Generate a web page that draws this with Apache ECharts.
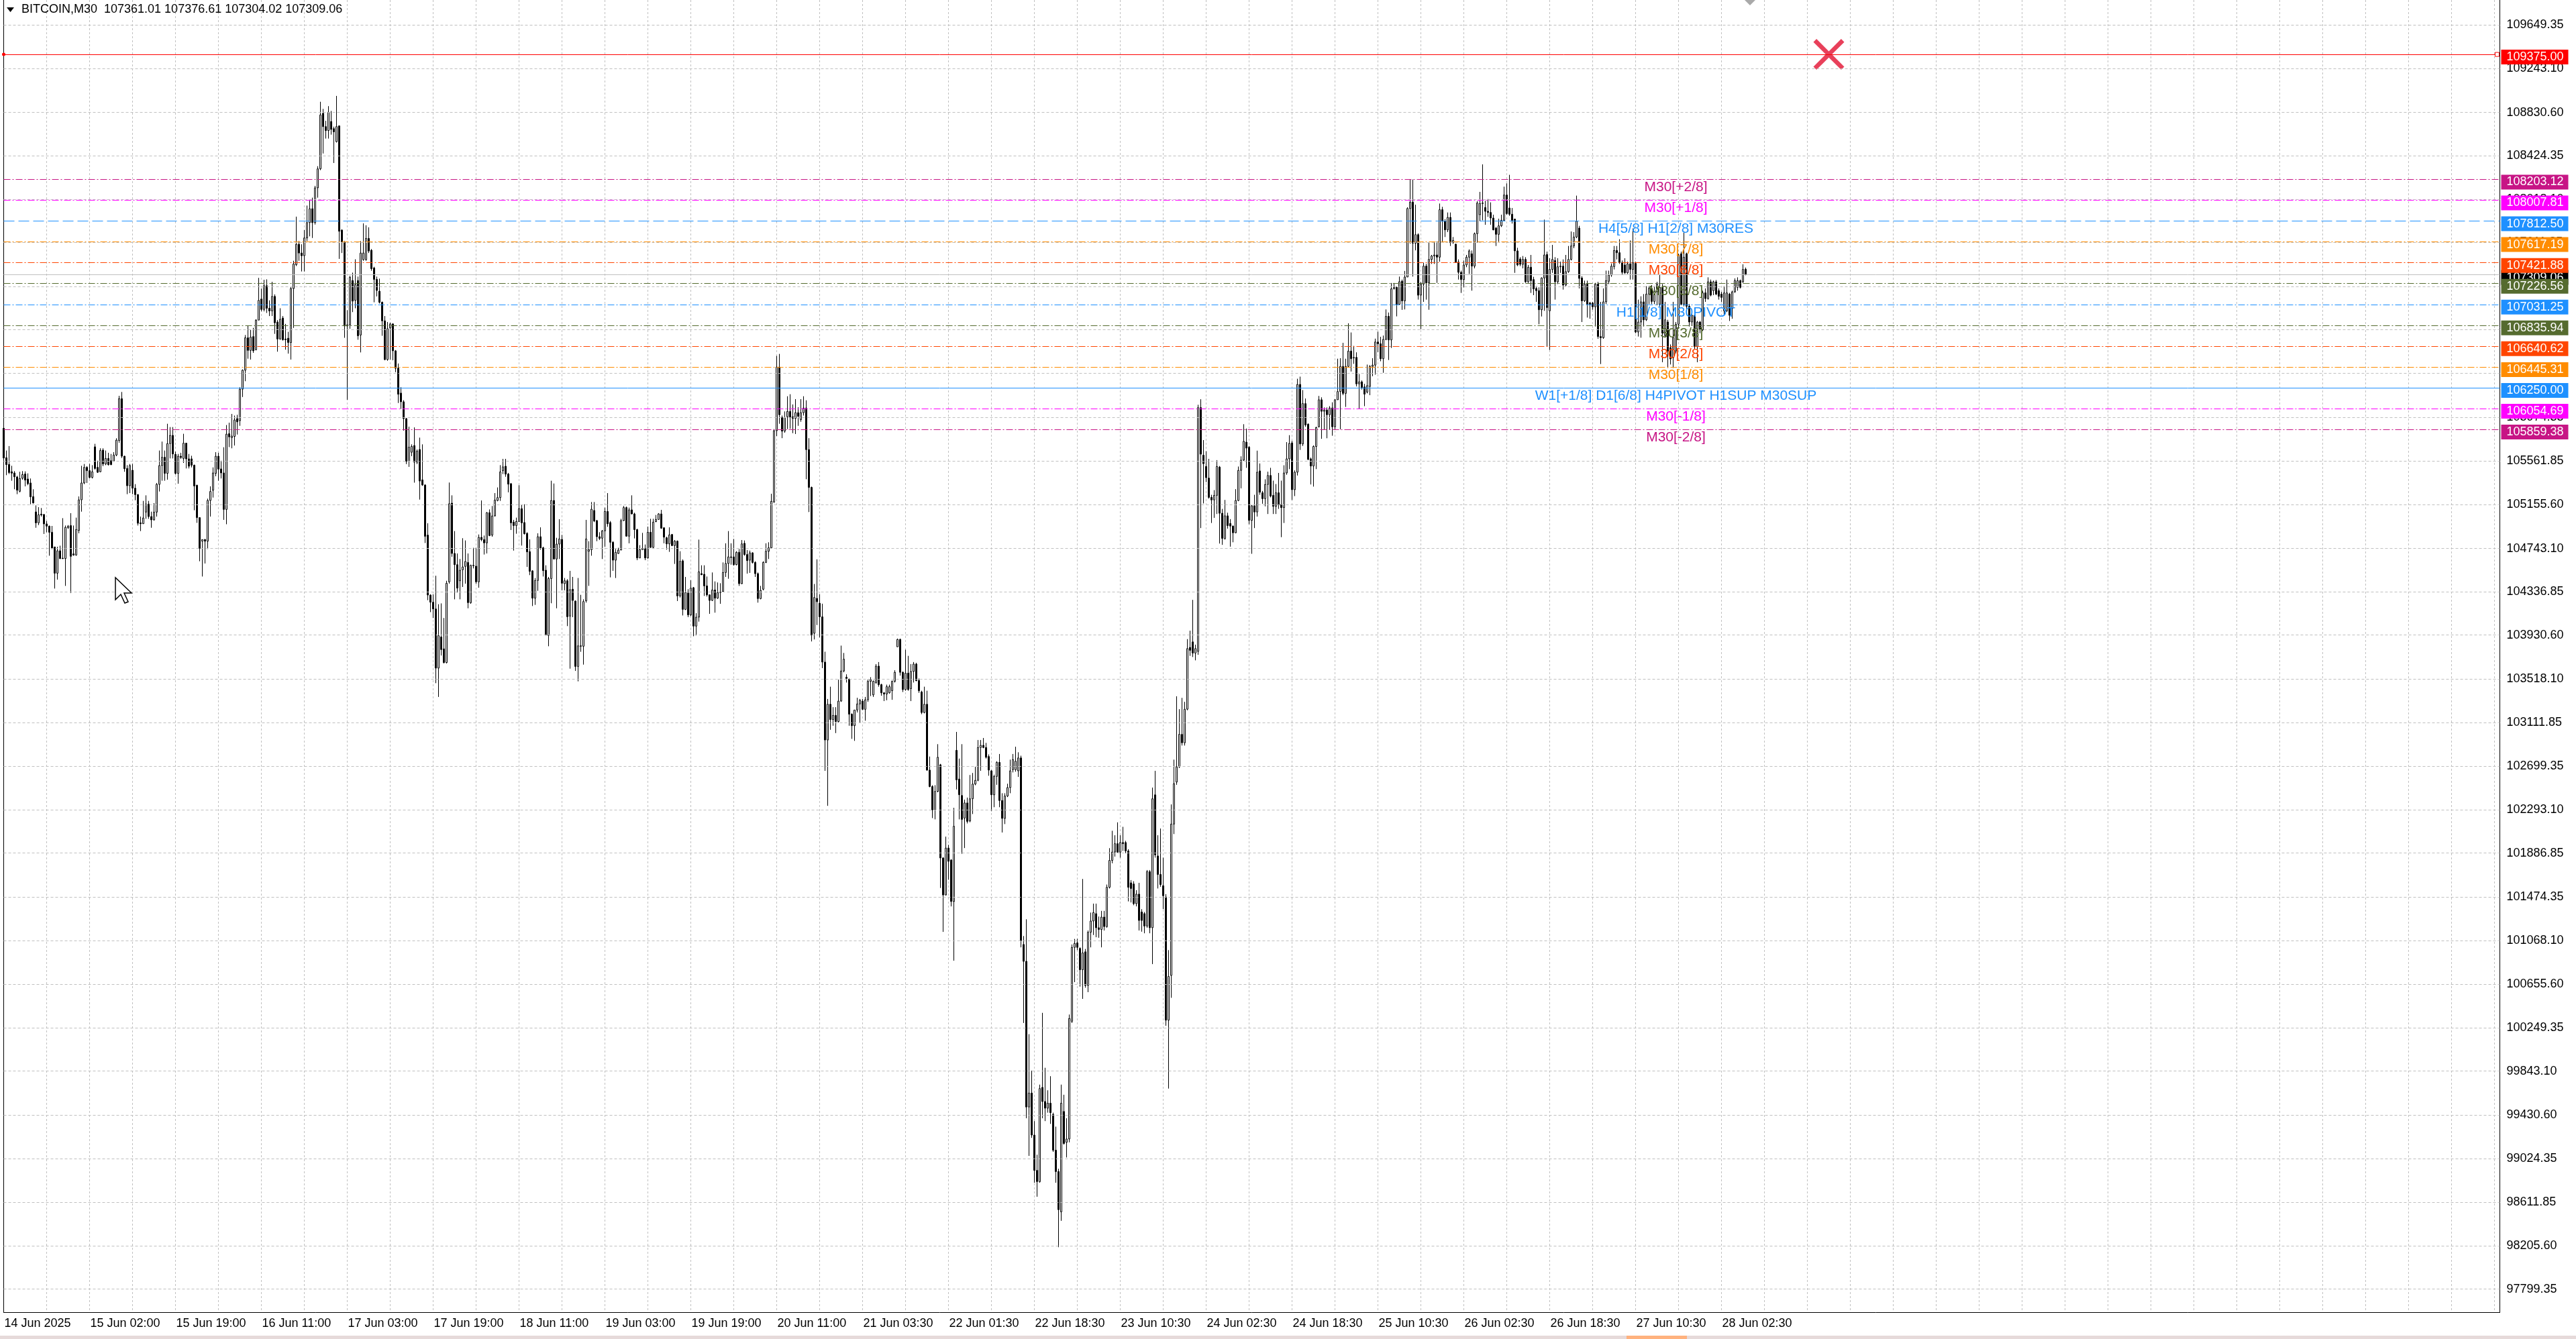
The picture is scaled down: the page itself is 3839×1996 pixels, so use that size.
<!DOCTYPE html>
<html><head><meta charset="utf-8">
<script src="https://cdn.jsdelivr.net/npm/echarts@6/dist/echarts.min.js"></script>
<style>html,body{margin:0;padding:0;background:#fff;overflow:hidden}#c{width:3839px;height:1996px}</style>
</head><body><div id="c"></div><script>
// ---------------- DATA ----------------
const timeLabels = ["14 Jun 2025","15 Jun 02:00","15 Jun 19:00","16 Jun 11:00","17 Jun 03:00","17 Jun 19:00","18 Jun 11:00","19 Jun 03:00","19 Jun 19:00","20 Jun 11:00","21 Jun 03:30","22 Jun 01:30","22 Jun 18:30","23 Jun 10:30","24 Jun 02:30","24 Jun 18:30","25 Jun 10:30","26 Jun 02:30","26 Jun 18:30","27 Jun 10:30","28 Jun 02:30"];
const priceTicks = [109649.35,109243.10,108830.60,108424.35,108018.10,107611.85,107199.35,106793.10,106386.85,105974.35,105561.85,105155.60,104743.10,104336.85,103930.60,103518.10,103111.85,102699.35,102293.10,101886.85,101474.35,101068.10,100655.60,100249.35,99843.10,99430.60,99024.35,98611.85,98205.60,97799.35];
const levelPrices = [108203.12,108007.81,107812.50,107617.19,107421.88,107226.56,107031.25,106835.94,106640.62,106445.31,106250.00,106054.69,105859.38];
const levelNames = ["M30[+2/8]","M30[+1/8]","H4[5/8] H1[2/8] M30RES","M30[7/8]","M30[6/8]","M30[5/8]","H1[1/8] M30PIVOT","M30[3/8]","M30[2/8]","M30[1/8]","W1[+1/8] D1[6/8] H4PIVOT H1SUP M30SUP","M30[-1/8]","M30[-2/8]"];
const bidPrice = 107309.06;
const alertPrice = 109375.00;
const alertBar = 680;
const labelBar = 623;
const headerSymbol = "BITCOIN,M30";
const headerOHLC = [107361.01,107376.61,107304.02,107309.06];
// bars: [open, close, low, high]
const bars = [
[105870,105591,105493,105877],[105594,105529,105430,105661],[105531,105455,105441,105703],[105462,105449,105378,105518],[105451,105415,105298,105468],
[105413,105289,105252,105424],[105279,105399,105269,105462],[105401,105436,105388,105468],[105441,105384,105325,105466],[105394,105350,105336,105447],
[105357,105227,105157,105399],[105229,105170,105164,105298],[105086,104983,104937,105147],[104983,105059,104962,105130],[105065,105057,105042,105122],
[105061,104973,104879,105067],[104973,104952,104895,105000],[104952,104895,104675,104958],[104895,104742,104738,104954],[104757,104511,104367,104757],
[104511,104721,104451,104759],[104721,104648,104644,104769],[104652,104648,104644,105027],[104648,104941,104392,104958],[104937,104952,104926,104962],
[104958,104669,104325,105074],[104692,104681,104675,104958],[104681,104920,104675,105032],[104912,105199,104885,105231],[105199,105357,105088,105518],
[105357,105503,105346,105535],[105503,105472,105357,105514],[105472,105409,105399,105535],[105409,105462,105399,105524],[105696,105493,105482,105724],
[105503,105457,105451,105566],[105462,105661,105457,105682],[105665,105535,105514,105682],[105535,105587,105524,105661],[105587,105529,105520,105640],
[105566,105529,105524,105629],[105562,105619,105556,105646],[105619,105759,105608,105776],[105755,106147,105734,106174],[106147,105608,105591,106210],
[105608,105491,105462,105612],[105493,105331,105252,105524],[105331,105520,105262,105535],[105476,105308,105252,105535],[105308,105248,105195,105346],
[105248,104979,104958,105252],[104983,104975,104906,105042],[104975,105029,104975,105189],[105084,105159,105021,105241],[105159,105042,105021,105189],
[105042,105011,104937,105088],[105011,105084,105004,105168],[105084,105344,105042,105357],[105344,105520,105277,105661],[105520,105598,105378,105745],
[105598,105447,105378,105661],[105447,105726,105388,105912],[105726,105803,105587,105881],[105803,105629,105587,105881],[105625,105447,105436,105650],
[105447,105608,105350,105629],[105608,105596,105583,105640],[105587,105730,105545,105818],[105730,105583,105493,105734],[105583,105514,105493,105629],
[105583,105524,105503,105612],[105524,105329,105101,105529],[105336,105032,104983,105340],[105032,104744,104623,105036],[104811,104826,104480,104828],
[104826,104811,104602,104832],[104811,105193,104738,105210],[105193,105277,105042,105325],[105289,105451,105220,105503],[105447,105608,105420,105646],
[105608,105487,105378,105640],[105489,105451,105399,105566],[105451,105109,105011,105692],[105109,105815,104970,105900],
[105819,105789,105693,105922],[105782,105797,105682,106004],[105793,105948,105708,105989],[105960,105930,105811,105996],[105941,106237,105893,106255],
[106237,106414,106163,106422],[106414,106718,106311,106744],[106718,106600,106522,106829],[106600,106725,106514,106792],[106729,106596,106577,106811],
[106607,106884,106600,106892],[106884,107069,106884,107280],[107081,106984,106966,107180],[106984,107206,106966,107262],[107206,106995,106951,107266],
[106995,106970,106922,107069],[106970,107106,106922,107243],[107106,106859,106755,107125],[106866,106707,106588,106884],[106707,106892,106700,106995],
[106903,106700,106692,106922],[106707,106700,106607,106848],[106714,106674,106570,106774],[106674,107180,106514,107199],[107180,107410,106811,107440],
[107403,107595,107391,107854],[107595,107513,107440,107625],[107513,107488,107340,107595],[107488,107654,107340,107728],[107654,107798,107625,107958],
[107798,107928,107669,108013],[107928,107798,107654,108032],[107798,108124,107780,108143],[108124,108302,108032,108327],[108302,108808,108290,108931],
[108823,108698,108446,108864],[108698,108661,108586,108753],[108661,108834,108586,108890],[108746,108672,108623,108845],[108679,108649,108357,108698],
[108557,108698,108549,108986],[108705,107717,107458,108709],[107728,107617,107513,107735],[107617,106829,106718,107625],[106829,106840,106137,106977],
[106840,107284,106803,107299],[107255,107062,106959,107329],[107069,107218,106995,107454],[107255,106737,106700,107292],[106744,107513,106581,107625],
[107451,107513,107440,107791],[107451,107650,107440,107773],[107650,107532,107513,107754],[107539,107366,107347,107550],[107373,107266,107051,107384],
[107266,107162,107106,107292],[107155,107051,107040,107273],[107051,106877,106737,107058],[106877,106514,106507,106922],[106514,106803,106503,106866],
[106811,106848,106514,106859],[106848,106596,106507,106855],[106596,106433,106396,106603],[106433,106189,106107,106477],[106200,106118,106052,106255],
[106118,105960,105848,106133],[105960,105560,105534,105967],[105560,105693,105508,105885],[105645,105700,105608,105719],[105708,105553,105360,105878],
[105553,105656,105534,105671],[105671,105375,105201,105782],[105386,105338,105330,105719],[105338,104857,104794,105345],[104868,104306,104258,104979],
[104306,104239,104146,104313],[104239,104176,104091,104313],[104176,103621,103480,104487],[103621,103925,103351,104220],[103913,103795,103739,104228],
[103802,103673,103665,104091],[103673,104417,103665,104440],
[104430,105162,104413,105361],[105168,104696,104665,105241],[104696,104591,104266,104906],[104591,104371,104329,104696],
[104440,104539,104266,104644],[104543,104570,104382,104839],[104575,104621,104413,104818],[104612,104235,104182,104696],[104235,104585,104224,104591],
[104585,104581,104556,104749],[104577,104430,104413,104749],[104430,104847,104375,104874],[104847,104826,104811,105193],[104826,104795,104686,104864],
[104795,105078,104696,105084],[105078,104864,104858,105109],[104868,105048,104853,105141],[105048,105197,105042,105262],[105193,105220,105185,105315],
[105220,105461,105189,105524],[105472,105508,105440,105583],[105514,105440,105415,105583],[105440,105346,105269,105451],[105350,104983,104916,105357],
[104990,104958,104723,105011],[104958,104996,104881,105032],[104996,105116,104990,105336],[105116,104983,104770,105151],[104986,104881,104874,105157],
[104885,104711,104570,104895],[104713,104528,104493,104828],[104533,104277,104203,104539],[104277,104443,104214,104466],[104443,104853,104346,104885],
[104853,104744,104732,104941],[104749,104535,104480,104759],[104539,103931,103927,104585],[103927,104461,103826,104476],[104461,105193,104229,105378],
[105193,104644,104640,105352],[104644,104784,104182,104843],[104784,104832,104644,105017],[104828,104417,104350,104870],[104413,104440,104350,104466],
[104440,104103,104015,104455],[104109,104357,103616,104533],[104361,104256,104099,104476],[104250,103637,103595,104256],[103637,103830,103497,104466],
[103830,103826,103774,104308],[103826,104245,103654,104266],[104252,104832,104235,105011],[104717,104732,104392,104811],[104732,105111,104675,105178],
[105099,105000,104990,105178],[105004,104853,104811,105011],[104853,104837,104822,104895],[104839,104908,104644,104916],[104908,105090,104759,105126],
[105090,104975,104946,105262],[104986,104801,104472,105000],[104801,104633,104533,104811],[104633,104707,104466,104738],[104696,104728,104692,104749],
[104728,105004,104728,105021],[105004,105126,105000,105141],[105126,104858,104853,105136],[104858,105105,104791,105126],[105105,105067,105063,105241],
[105067,104920,104837,105078],[104920,104654,104633,104927],[104654,104732,104654,104774],[104732,104744,104728,104889],[104744,104654,104633,104780],
[104654,104895,104648,104948],[104895,104753,104749,105021],[104753,104990,104744,105021],[104994,105015,104990,105057],[105015,105067,105011,105074],
[105067,104933,104927,105105],[104937,104849,104791,104941],[104843,104786,104732,104853],[104786,104870,104711,104941],[104874,104770,104765,104879],
[104770,104811,104598,104822],[104811,104298,104250,104818],[104298,104623,104283,104717],[104627,104172,104115,104640],[104172,104329,104166,104476],
[104325,104120,104099,104361],[104120,104371,104109,104445],[104375,104015,103920,104382],[104015,104099,103927,104136],[104099,104524,104057,104826],
[104507,104497,104493,104585],[104501,104392,104298,104585],[104392,104308,104292,104480],[104308,104256,104130,104312],[104256,104354,104250,104518],
[104354,104277,104141,104434],[104277,104329,104271,104424],[104329,104336,104224,104417],[104340,104518,104333,104612],[104518,104602,104476,104791],
[104602,104664,104459,104906],[104664,104658,104591,104791],[104664,104591,104581,104832],[104591,104707,104585,104717],[104707,104413,104392,104738],
[104413,104786,104409,104822],[104791,104686,104675,104818],[104686,104629,104507,104728],[104633,104702,104514,104723],[104702,104612,104602,104707],
[104612,104507,104476,104623],[104507,104273,104235,104518],[104273,104350,104266,104392],[104361,104612,104350,104623],[104612,104717,104606,104791],
[104717,104749,104644,104801],[104749,105185,104749,105256],
[105180,105847,105169,105862],[105847,106444,105797,106548],[106444,105997,105912,106567],
[105970,105843,105777,105989],[105843,105970,105828,106028],[105978,106028,105862,106170],[106028,105970,105866,106189],[105978,105962,105824,106093],
[105962,106016,105816,106143],[106016,105982,105893,106066],[105951,106016,105931,106143],[106016,106059,105989,106170],[106059,105670,105392,106132],
[105670,105315,105084,105777],[105315,103929,103871,105323],[103948,104283,103890,104410],[104275,104244,104025,104641],[104229,104102,103909,104314],
[104102,103678,103621,104225],[103678,102947,102658,103775],[102947,103282,102330,103332],[103282,103139,103043,103447],[103139,103178,103081,103255],
[103178,103120,103012,103255],[103120,103312,103112,103513],[103312,103594,103305,103832],[103594,103705,103582,103763],[103536,103524,103486,103563],
[103517,103189,103081,103524],[103189,103081,102958,103197],[103081,103228,102939,103228],[103228,103285,103205,103343],[103285,103320,103112,103332],
[103312,103235,103228,103332],[103235,103324,103128,103351],[103324,103497,103305,103513],[103497,103513,103359,103536],[103370,103497,103351,103505],
[103486,103640,103474,103659],[103640,103466,103447,103678],[103466,103389,103362,103474],[103389,103378,103312,103397],[103378,103447,103320,103466],
[103389,103447,103382,103466],[103409,103497,103324,103505],[103497,103582,103486,103601],[103821,103890,103821,103898],[103890,103582,103551,103898],
[103582,103420,103397,103590],[103420,103574,103409,103794],[103574,103420,103409,103736],[103428,103590,103312,103659],[103590,103659,103486,103678],
[103659,103505,103497,103671],[103505,103409,103389,103524],[103397,103205,103189,103409],[103205,103282,103197,103447],[103282,102665,102658,103409],
[102665,102511,102504,102792],[102511,102292,102215,102523],[102292,102465,102203,102523],[102465,102785,102457,102908],[102715,101841,101560,102723],
[101841,101494,101148,101849],[101494,101934,101491,102041],[101934,101810,101637,101964],[101822,101433,101387,101830],[101433,102138,100878,102311],
[102850,102573,102484,103023],[102581,102434,102203,102773],[102427,102203,101880,102908],[102215,102357,101934,102388],[102357,102184,102165,102407],
[102188,102396,102176,102619],[102396,102534,102253,102638],[102534,102569,102523,102696],[102569,102877,102561,102947],[102877,102897,102658,102947],
[102897,102877,102870,102966],[102877,102785,102773,102920],[102792,102665,102612,102812],[102658,102434,102280,102665],
[102433,102606,102317,102622],
[102606,102737,102527,102748],[102737,102380,102317,102816],[102380,102212,102080,102448],[102212,102422,102159,102448],[102422,102501,102412,102537],
[102501,102658,102448,102763],[102669,102763,102643,102816],[102669,102748,102650,102884],[102658,102779,102601,102832],[102779,101066,101003,102800],
[101030,100872,100294,101109],[100872,99506,99401,101266],[99506,99637,99048,100189],[99637,99243,99217,99847],[99243,98912,98796,99374],
[98912,98807,98665,99059],[98807,99679,98796,99716],[99690,99558,99401,100389],[99558,99495,99374,99874],[99495,99542,99453,99663],
[99542,99453,99348,99795],[99437,99101,99085,99453],[99101,98901,98796,99322],[98901,98544,98192,98927],[98523,99542,98439,99716],
[99464,99164,99154,99621],[99175,99206,99033,99401],[99206,100336,99175,100373],[100310,101003,100294,101030],[101003,101040,100677,101082],
[101045,101003,100977,101082],[100993,100793,100635,101003],[100793,100951,100520,101644],[100961,100646,100625,100988],[100646,101145,100583,101161],
[101145,101250,101003,101329],[101250,101329,101119,101413],[101319,101187,101098,101413],[101187,101171,101093,101292],[101171,101287,101003,101345],
[101287,101198,101161,101345],[101198,101566,101187,101592],[101566,101818,101555,101933],[101818,101896,101791,102096],[101896,101975,101854,102054],
[101975,101896,101886,102175],[101896,101986,101844,102054],[101986,101975,101907,102133],[101986,101907,101886,102002],[101907,101566,101434,101923],
[101608,101555,101424,101634],[101597,101413,101398,101623],[101413,101502,101387,101539],[101502,101255,101161,101608],[101334,101255,101150,101361],
[101319,101203,101135,101334],[101203,101713,101187,101728],[101713,101187,101135,101728],[101187,102396,100846,102501],[102433,101870,101844,102658],
[101860,101686,101555,102054],[101686,101592,101571,102117],[101581,101487,101361,101844],[101476,100320,100268,101502],[100320,100730,99679,100977],
[100740,102159,100530,102343],[102159,102537,102065,102763],[102553,102695,102527,103357],[102695,103000,102685,103236],[103000,102921,102895,103342],
[102921,103236,102895,103305],[103236,103804,103226,103893],[103815,103788,103736,103972],[103867,103762,103725,104261],[103762,103804,103694,103841],
[103778,106063,103746,106090],[106063,105627,104934,106142],[105617,105538,105165,105759],[105512,105407,105365,105654],
[105403,105222,105210,105583],
[105222,105198,104982,105246],[105198,105241,105030,105290],[105241,105511,105066,105571],[105506,105073,104789,105516],[105073,104837,104777,105114],
[104837,105049,104825,105198],[105049,104958,104929,105078],[104977,104953,104760,105018],[104953,104890,104801,104958],[104890,105193,104885,105299],
[105193,105475,105186,105511],[105475,105571,105306,105607],[105571,105747,105564,105908],[105740,105684,105499,105867],[105692,105006,104970,105704],
[105006,105143,104693,105150],[105143,105085,104934,105246],[105085,105458,105042,105660],[105470,105270,105246,105540],[105265,105210,105162,105282],
[105210,105343,105138,105391],[105343,105427,105066,105463],[105427,105234,105222,105499],[105241,105138,105066,105379],[105138,105265,105066,105347],
[105265,105150,105114,105451],[105155,105126,104849,105379],[105126,105451,104982,105523],[105451,105583,105434,105740],[105583,105728,105487,105805],
[105733,105294,105198,105752],[105294,105458,105234,105475],[105458,106281,105427,106334],[106281,105723,105667,106354],[105723,106101,105704,106228],
[106101,105901,105884,106149],[105908,105578,105571,105916],[105583,105516,105343,105595],[105516,105699,105323,105709],[105699,105877,105487,105884],
[105884,106137,105877,106173],[106137,106029,105771,106160],[106029,106041,105860,106065],[106041,105997,105776,106065],[105997,106060,105860,106077],
[106060,105884,105800,106113],[105884,106137,105860,106142],[106137,106214,106137,106522],[106214,106450,105860,106527],[106450,106197,106180,106671],
[106197,106450,106070,106522],[106450,106594,106445,106854],[106594,106522,106402,106768],[106529,106534,106474,106642],[106534,106286,106262,106582],
[106286,106305,106053,106378],[106305,106253,106233,106318],[106257,106190,106077,106286],[106209,106269,106197,106467],[106262,106450,106180,106462],
[106450,106462,106358,106527],[106462,106679,106373,106710],[106679,106662,106582,106775],[106662,106522,106498,106727],[106522,106703,106390,106739],
[106703,106919,106695,106984],[106919,106698,106510,106955],[106698,107177,106623,107232],[107177,107191,107172,107232],[107191,107032,106919,107201],
[107032,107244,107028,107292],[107249,107064,106980,107264],[107064,107288,106984,107345],[107288,107930,107288,107942],[107930,107990,107601,108202],
[107990,107605,107292,108202],[107605,107685,107538,107966],[107685,107117,107076,107697],
[107118,107222,106799,107243],[107222,107390,107055,107422],
[107390,107233,107076,107411],[107233,107453,106981,107610],[107453,107485,107411,107495],[107485,107495,107411,107621],[107495,107474,107233,107621],
[107474,107919,107432,107977],[107919,107810,107621,107946],[107810,107730,107663,107831],[107730,107847,107709,107893],[107847,107610,107579,107893],
[107610,107631,107600,107663],[107596,107428,107422,107600],[107428,107332,107264,107453],[107332,107264,107139,107348],[107264,107401,107191,107443],
[107401,107474,107380,107495],[107474,107533,107317,107547],[107506,107390,107160,107537],[107390,107694,107369,107705],[107694,107982,107610,107998],
[107872,107977,107810,108086],[107977,107982,107820,108344],[107940,107904,107778,108002],[107904,107893,107852,108019],[107893,107841,107778,107988],
[107841,107730,107726,107872],[107747,107688,107579,107757],[107688,107768,107621,107835],[107768,107820,107757,107872],[107820,108057,107810,108135],
[108057,107883,107872,108166],[107935,107877,107862,108246],[107877,107820,107789,107935],[107831,107533,107327,107835],[107533,107401,107390,107562],
[107457,107407,107390,107474],[107407,107453,107369,107485],[107453,107243,107233,107474],[107243,107380,107233,107401],[107380,107254,107139,107495],
[107264,107176,107118,107290],[107181,107160,107055,107202],[107160,106981,106845,107191],[106981,107279,106918,107285],[107279,107495,106971,107826],
[107499,107002,106635,107526],[106971,107359,106604,107464],[107359,107453,107327,107589],[107443,107243,107076,107474],[107243,107384,107222,107464],
[107384,107390,107327,107432],[107390,107212,107170,107453],[107212,107338,107202,107495],[107338,107453,107327,107579],[107453,107579,107443,107715],
[107579,107663,107558,107709],[107663,107810,107652,108051],[107747,107275,107181,107768],[107279,107065,106866,107296],[107065,107222,107055,107254],
[107222,107034,106908,107254],[107044,107034,106897,107055],[107044,107009,106981,107055],[107009,107222,106824,107233],[107222,106730,106709,107243],
[106730,106719,106472,107055],[106719,107055,106709,107181],[107055,107254,107034,107348],[107248,107306,107222,107348],[107306,107390,107290,107415],
[107386,107537,107359,107579],[107537,107516,107453,107579],[107516,107422,107411,107642],[107422,107332,107306,107443],[107401,107327,107317,107464],
[107327,107411,107317,107432],[107411,107359,107264,107631],[107359,107422,107264,107743],[107415,106772,106761,107432],[106772,106866,106730,107076],
[106866,107055,106719,107107],[107055,106887,106824,107128],[106887,107128,106876,107202],[107128,107181,107034,107202],[107181,107059,107034,107212],
[107059,107149,107034,107202],[107149,107222,107023,107243],[107034,107191,107013,107306],[107191,106761,106489,107222],[106740,106887,106719,107055],
[106866,106594,106436,106887],[106625,106520,106468,106656],[106530,106719,106436,107055],[106594,106845,106572,106866],[106845,107495,106803,107506],
[107506,107034,107023,107526],[107034,107474,107013,107705],[107506,107013,106992,107516],[107013,106866,106824,107034],[106866,106929,106835,106939],
[106929,106635,106614,106950],[106635,106866,106489,106876],[106866,106793,106761,106876],[106793,107139,106782,107160],[107139,107086,107055,107181],
[107086,107243,107076,107285],[107243,107118,107107,107264],[107160,107243,107118,107254],[107243,107128,107118,107260],[107160,107107,107076,107181],
[107128,107097,107055,107149],[106971,107139,106929,107202],[106971,107139,106960,107264],[107128,106929,106876,107139],[106992,107149,106897,107160],
[107149,107254,107139,107275],[107191,107254,107160,107285],[107254,107191,107181,107264],[107243,107359,107233,107407],[107361.01,107309.06,107304.02,107376.61]
];

// ---------------- STYLE ----------------
const FONT = '"Liberation Sans", Arial, sans-serif';
const levelColors = ['#C71585','#FF00FF','#1E90FF','#FF8C00','#FF4500','#556B2F','#1E90FF','#556B2F','#FF4500','#FF8C00','#1E90FF','#FF00FF','#C71585'];
const DD = [10,3,2,3], DASH = [16,6];
const levelDash = [DD,DD,DASH,DD,DD,DD,DD,DD,DD,DD,'solid',DD,DD];
const N_CATS = 931;
const Y_MIN = 97582.6, Y_MAX = 109885.2;
const categories = Array.from({length: N_CATS}, (_, i) => String(i));

function boxLabel(bg) {
  return {show: true, position: 'end', distance: 2, formatter: '{b}', color: '#fff', backgroundColor: bg,
    fontSize: 18, fontFamily: FONT, padding: [1, 4, 1, 8], width: 88, height: 20, lineHeight: 20,
    align: 'left', verticalAlign: 'middle', offset: [0, 4]};
}

const levelLineData = [];
levelLineData.push({yAxis: bidPrice, name: bidPrice.toFixed(2), lineStyle: {color: '#C0C0C0', type: 'solid', width: 1}, label: boxLabel('#000000')});
levelLineData.push({yAxis: alertPrice, name: alertPrice.toFixed(2), lineStyle: {color: '#FF0000', type: 'solid', width: 1}, label: boxLabel('#FF0000')});
levelPrices.forEach((p, k) => levelLineData.push({yAxis: p, name: p.toFixed(2),
  lineStyle: {color: levelColors[k], type: levelDash[k], width: 1}, label: boxLabel(levelColors[k])}));

const levelTextData = levelNames.map((n, k) => ({
  coord: [labelBar, levelPrices[k]], name: n, symbol: 'circle', symbolSize: 1,
  itemStyle: {color: 'rgba(0,0,0,0)'},
  label: {show: true, formatter: '{b}', position: 'inside', offset: [0, 12], color: levelColors[k], fontSize: 21, fontFamily: FONT}
}));
levelTextData.push({coord: [0, alertPrice], name: '', symbol: 'circle', symbolSize: 5, itemStyle: {color: '#FF0000'}, label: {show: false}});
levelTextData.push({coord: [929, alertPrice], name: '', symbol: 'rect', symbolSize: 6, itemStyle: {color: '#fff', borderColor: '#FF0000', borderWidth: 1}, label: {show: false}});

const option = {
  animation: false,
  backgroundColor: '#fff',
  textStyle: {fontFamily: FONT},
  grid: {left: 5.5, right: 113.5, top: 0, bottom: 40},
  xAxis: {
    type: 'category', data: categories, boundaryGap: false,
    axisLine: {show: true, onZero: false, lineStyle: {color: '#000', width: 1}},
    axisTick: {show: false},
    axisLabel: {
      interval: (i) => i % 32 === 0 && (i / 32) < timeLabels.length,
      formatter: (v, i) => timeLabels[i / 32] || '',
      align: 'left', margin: 8, color: '#000', fontSize: 18, fontFamily: FONT, padding: [0, 0, 0, 1]
    },
    splitLine: {show: true, interval: (i) => i % 16 === 0, lineStyle: {color: '#C0C0C0', type: [3, 3], width: 1}}
  },
  yAxis: [
    {type: 'value', position: 'right', min: Y_MIN, max: Y_MAX, scale: true,
      axisLine: {show: true, lineStyle: {color: '#000', width: 1}}, axisTick: {show: false},
      axisLabel: {show: false}, splitLine: {show: false}},
    {type: 'value', position: 'left', min: Y_MIN, max: Y_MAX, scale: true,
      axisLine: {show: true, lineStyle: {color: '#000', width: 1}}, axisTick: {show: false},
      axisLabel: {show: false}, splitLine: {show: false}}
  ],
  series: [
    {type: 'line', name: 'grid', data: [], z: 1, silent: true,
      markLine: {symbol: ['none', 'none'], silent: true, animation: false,
        lineStyle: {color: '#C0C0C0', type: [4, 3], width: 1},
        label: {show: true, position: 'end', distance: 10, formatter: '{b}', color: '#000', fontSize: 18, fontFamily: FONT},
        data: priceTicks.map(v => ({yAxis: v, name: v.toFixed(2)}))}},
    {type: 'candlestick', name: 'BITCOIN', data: bars, z: 2, large: false, barWidth: 2, silent: true,
      itemStyle: {color: '#FFFFFF', color0: '#000000', borderColor: '#000000', borderColor0: '#000000', borderWidth: 1}},
    {type: 'line', name: 'levels', data: [], z: 3, silent: true,
      markLine: {symbol: ['none', 'none'], silent: true, animation: false, data: levelLineData},
      markPoint: {silent: true, animation: false, data: levelTextData}},
    {type: 'scatter', name: 'alert', z: 4, silent: true,
      data: [[alertBar, alertPrice]],
      symbol: 'path://M2,0 L10,8 L18,0 L20,2 L12,10 L20,18 L18,20 L10,12 L2,20 L0,18 L8,10 L0,2 Z',
      symbolSize: 46, itemStyle: {color: '#E8405A', opacity: 1}}
  ],
  graphic: [
    {type: 'polygon', shape: {points: [[10, 11], [21, 11], [15.5, 18]]}, style: {fill: '#000'}, z: 10},
    {type: 'text', left: 32, top: 5, style: {text: headerSymbol + '  ' + headerOHLC.map(v => v.toFixed(2)).join(' '), fill: '#000', fontSize: 18, fontFamily: FONT}, z: 10},
    {type: 'polygon', shape: {points: [[2600, 0], [2616, 0], [2608, 8]]}, style: {fill: '#A9A9A9'}, z: 10},
    {type: 'polygon', shape: {points: [[172, 861], [172, 894], [180, 886], [186, 899], [191, 897], [185, 884], [196, 884]]}, style: {fill: '#fff', stroke: '#000', lineWidth: 1.5}, z: 10},
    {type: 'rect', shape: {x: 0, y: 1991, width: 3839, height: 5}, style: {fill: '#E6DADA'}, z: 10},
    {type: 'rect', shape: {x: 2424, y: 1991, width: 90, height: 5}, style: {fill: '#FFB27E'}, z: 11}
  ]
};
const chart = echarts.init(document.getElementById('c'), null, {renderer: 'canvas', width: 3839, height: 1996});
chart.setOption(option);
</script></body></html>
